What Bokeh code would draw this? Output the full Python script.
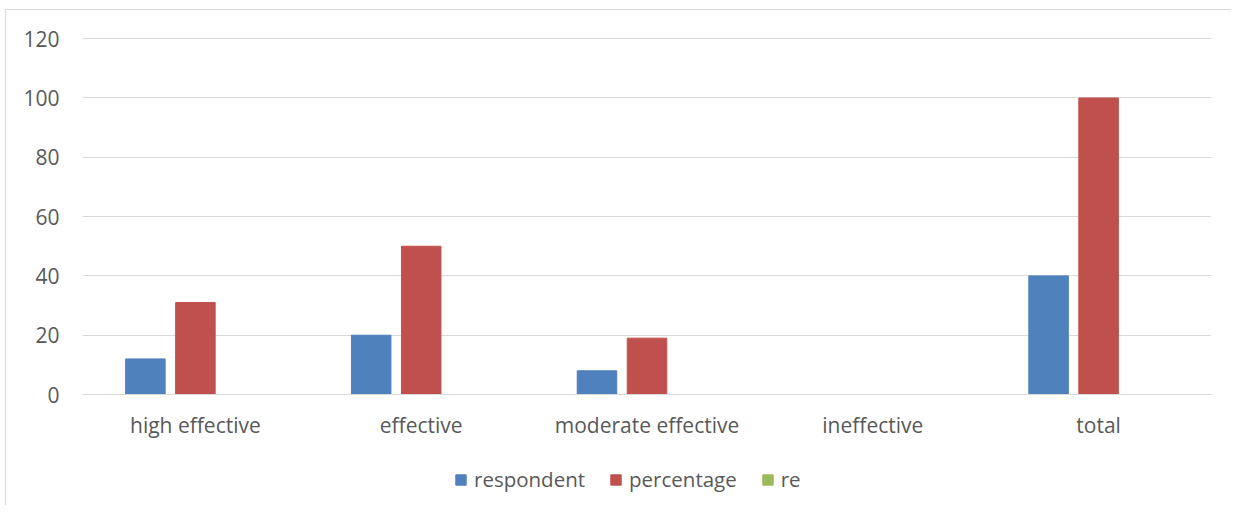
from bokeh.plotting import figure
from bokeh.layouts import column, row
from bokeh.models import (ColumnDataSource, FactorRange, Range1d, FixedTicker, Legend,
                          LegendItem, Spacer)
from bokeh.transform import dodge
from bokeh.embed import file_html
from bokeh.resources import INLINE

categories = ["high effective", "effective", "moderate effective", "ineffective", "total"]
respondent = [12, 20, 8, 0, 40]
percentage = [31, 50, 19, 0, 100]
re_values = [0, 0, 0, 0, 0]
series_names = ["respondent", "percentage", "re"]
series_colors = ["#4f81bd", "#c0504d", "#9bbb59"]
y_ticks = [0, 20, 40, 60, 80, 100, 120]

source = ColumnDataSource(dict(cat=categories, respondent=respondent,
                               percentage=percentage, re=re_values))

p = figure(x_range=FactorRange(*categories), y_range=Range1d(0, 120.4),
           width=1225, height=434, output_backend="svg", toolbar_location=None,
           min_border_left=76, min_border_right=20, min_border_top=27,
           min_border_bottom=50)
p.outline_line_color = None
p.background_fill_color = "white"
p.border_fill_color = "white"

offsets = [-0.2215, 0.0, 0.2215]
bar_w = 0.175
for name, col, off in zip(series_names, series_colors, offsets):
    p.vbar(x=dodge("cat", off, range=p.x_range), top=name, width=bar_w,
           source=source, fill_color=col, line_color=col)

p.yaxis.ticker = FixedTicker(ticks=y_ticks)
p.ygrid.ticker = FixedTicker(ticks=y_ticks)
p.xgrid.grid_line_color = None
p.ygrid.grid_line_color = "#d9d9d9"
p.ygrid.grid_line_width = 1

for ax in (p.xaxis, p.yaxis):
    ax.major_label_text_font = "Open Sans"
    ax.major_label_text_font_size = "21px"
    ax.major_label_text_color = "#595959"
    ax.major_tick_line_color = None
    ax.minor_tick_line_color = None
    ax.major_tick_out = 0
    ax.major_tick_in = 0
p.yaxis.axis_line_color = None
p.yaxis.major_label_standoff = 23
p.xaxis.axis_line_color = "#d9d9d9"
p.xaxis.major_label_standoff = 16

# legend strip below the chart (hidden proxies of the same series)
lf = figure(x_range=p.x_range, y_range=Range1d(-2, -1),
            width=1225, height=61, output_backend="svg", toolbar_location=None,
            min_border=0, x_axis_location=None, y_axis_location=None)
lf.outline_line_color = None
lf.xgrid.grid_line_color = None
lf.ygrid.grid_line_color = None
lf.background_fill_color = "white"
lf.border_fill_color = "white"
leg_renderers = [lf.vbar(x=dodge("cat", off, range=lf.x_range), top=name, width=bar_w,
                         source=source, fill_color=col, line_color=col, visible=False)
                 for name, col, off in zip(series_names, series_colors, offsets)]

legend = Legend(items=[LegendItem(label=n, renderers=[r])
                       for n, r in zip(series_names, leg_renderers)],
                orientation="horizontal", location=(372, 12))
legend.label_text_font = "Open Sans"
legend.label_text_font_size = "20.5px"
legend.label_text_color = "#595959"
legend.glyph_width = 13
legend.glyph_height = 13
legend.label_standoff = 7
legend.spacing = 24
legend.padding = 0
legend.margin = 0
legend.border_line_color = None
legend.background_fill_alpha = 0
legend.inactive_fill_alpha = 0
lf.add_layout(legend, "center")

inner = column(p, lf, spacing=0,
               styles={"border-left": "1px solid #d9d9d9", "border-top": "1px solid #d9d9d9"})
layout = row(Spacer(width=5), column(Spacer(height=9), inner, spacing=0), spacing=0)

open("out.html", "w").write(file_html(layout, INLINE))
